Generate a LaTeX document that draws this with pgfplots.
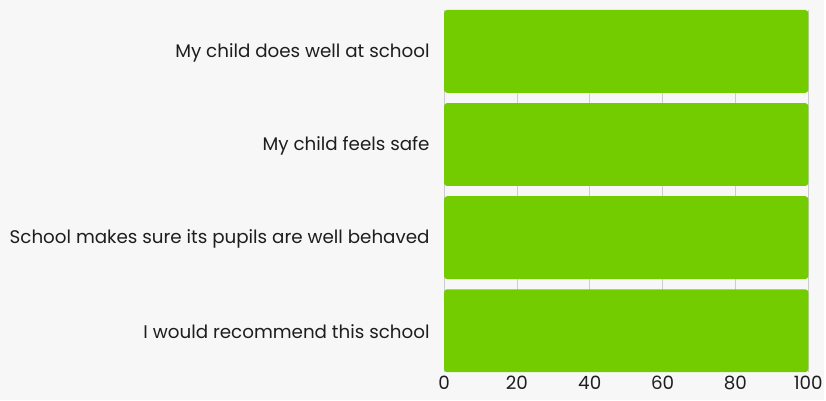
\documentclass[border=0pt]{standalone}
\usepackage{pgfplots}
\pgfplotsset{compat=1.18}
\usepackage{fontspec}
\setmainfont{Poppins}
\definecolor{bg}{HTML}{F7F7F7}
\definecolor{barg}{HTML}{73CC00}
\definecolor{gridc}{HTML}{CCCCCC}
\definecolor{txt}{HTML}{1E1E1E}
\begin{document}
\begin{tikzpicture}[x=1bp,y=1bp]
\fill[bg] (0,0) rectangle (826,401);
\begin{axis}[
  at={(445bp,28bp)}, anchor=south west,
  scale only axis, width=365bp, height=363bp,
  xmin=0, xmax=100, ymin=-0.445, ymax=3.445,
  xbar, bar width=83bp,
  axis line style={draw=none},
  tick style={draw=none},
  xtick={0,20,40,60,80,100},
  ytick={0,1,2,3},
  yticklabels={I would recommend this school, School makes sure its pupils are well behaved, My child feels safe, My child does well at school},
  xmajorgrids, grid style={gridc, line width=0.8bp},
  major tick length=0pt,
  /pgf/number format/assume math mode=true,
  tick label style={font=\fontsize{18.4}{20}\selectfont, text=txt},
  xticklabel style={yshift=-3bp, inner ysep=1bp},
  yticklabel style={xshift=-11bp, yshift=-1bp},
  clip=false,
]
\addplot[fill=barg, draw=none, rounded corners=3bp] coordinates {(100,0) (100,1) (100,2) (100,3)};
\end{axis}
\useasboundingbox (0,0) rectangle (826,401);
\end{tikzpicture}
\end{document}
